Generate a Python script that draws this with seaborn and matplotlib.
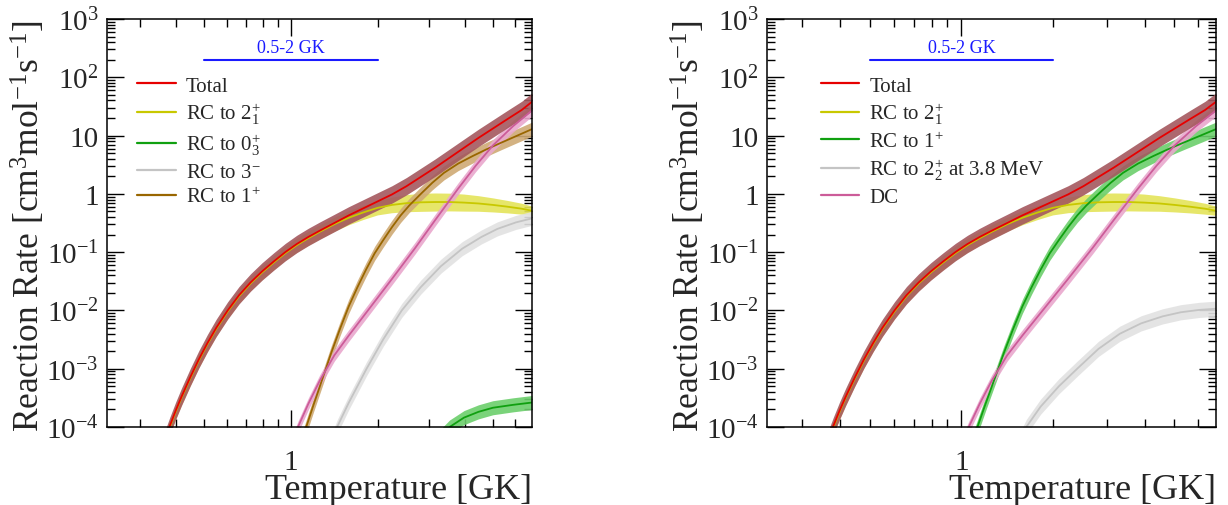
import numpy as np
import pandas as pd
import matplotlib
import matplotlib.pyplot as plt
from matplotlib.lines import Line2D
import seaborn as sns

# ---- data (temperature in GK, rate in cm3 mol-1 s-1) ----
t_total = [0.36, 0.38, 0.398, 0.417, 0.447, 0.479, 0.513, 0.55, 0.603, 0.66, 0.724, 0.794,
           0.871, 0.955, 1.047, 1.148, 1.259, 1.413, 1.585, 1.778, 1.995, 2.239, 2.512, 2.818,
           3.162, 3.548, 3.981, 4.467, 5.012, 5.623, 6.31, 6.85]
r_total = [5.0e-5, 1.05e-4, 1.9e-4, 3.3e-4, 7.1e-4, 1.45e-3, 2.75e-3, 5.0e-3, 0.010, 0.0182,
           0.0302, 0.0468, 0.0692, 0.100, 0.138, 0.182, 0.234, 0.316, 0.427, 0.562, 0.741,
           0.977, 1.35, 1.95, 2.82, 4.17, 6.17, 9.12, 13.2, 19.1, 27.5, 38.0]

t_rc21 = t_total
r_rc21 = [4.8e-5, 1.0e-4, 1.82e-4, 3.17e-4, 6.8e-4, 1.39e-3, 2.64e-3, 4.8e-3, 9.6e-3, 0.0175,
          0.029, 0.0449, 0.0664, 0.096, 0.132, 0.174, 0.224, 0.302, 0.389, 0.479, 0.575,
          0.646, 0.692, 0.716, 0.724, 0.724, 0.708, 0.684, 0.646, 0.603, 0.556, 0.513]
e_rc21 = [1.32, 1.32, 1.32, 1.32, 1.32, 1.32, 1.32, 1.32, 1.32, 1.32, 1.32, 1.32, 1.32,
          1.32, 1.32, 1.32, 1.32, 1.32, 1.32, 1.32, 1.32, 1.36, 1.40, 1.43, 1.43, 1.42,
          1.40, 1.36, 1.32, 1.28, 1.24, 1.20]

t_rc1 = [1.07, 1.12, 1.20, 1.29, 1.38, 1.48, 1.585, 1.70, 1.82, 1.95, 2.09, 2.24, 2.40,
         2.57, 2.82, 3.09, 3.39, 3.80, 4.27, 4.79, 5.37, 6.03, 6.85]
r_rc1 = [4.5e-5, 8.9e-5, 2.5e-4, 7.1e-4, 1.9e-3, 4.9e-3, 0.0117, 0.0251, 0.0501, 0.0955,
         0.162, 0.269, 0.427, 0.631, 1.00, 1.55, 2.29, 3.31, 4.47, 5.89, 7.59, 9.77, 12.9]

t_dc = [1.0, 1.057, 1.148, 1.259, 1.413, 1.585, 1.862, 2.239, 2.692, 3.162, 3.784, 4.365,
        5.012, 5.888, 6.85]
r_dc = [5.0e-5, 1.0e-4, 2.5e-4, 6.3e-4, 1.7e-3, 3.7e-3, 0.0105, 0.0347, 0.117, 0.355, 1.20,
        3.02, 6.76, 14.5, 26.9]

t_rc3m = [1.38, 1.445, 1.585, 1.828, 2.089, 2.421, 2.818, 3.311, 3.926, 4.571, 5.2, 6.026, 6.85]
r_rc3m = [5.6e-5, 1.0e-4, 2.6e-4, 1.0e-3, 3.2e-3, 0.010, 0.0251, 0.0575, 0.115, 0.182, 0.251,
          0.324, 0.38]

t_rc03 = [3.162, 3.548, 3.981, 4.467, 5.012, 5.888, 6.85]
r_rc03 = [5.6e-5, 1.0e-4, 1.45e-4, 1.82e-4, 2.14e-4, 2.4e-4, 2.63e-4]

t_rc22 = [1.549, 1.633, 1.82, 2.089, 2.399, 2.818, 3.311, 3.89, 4.571, 5.248, 6.026, 6.85]
r_rc22 = [5.6e-5, 1.0e-4, 2.24e-4, 5.0e-4, 1.0e-3, 2.19e-3, 3.98e-3, 6.0e-3, 7.9e-3, 9.3e-3,
          0.0102, 0.0107]

# multiplicative uncertainty of the bands
err_total = 1.41
err_rc1 = 1.32
err_dc = 1.26
err_rc3m = 1.32
err_rc03 = 1.32
err_rc22 = 1.35

range_t = [0.5, 2.0]
range_level = [200, 200]
range_text = '0.5-2 GK'

y_ticks = [1e-4, 1e-3, 1e-2, 1e-1, 1, 10, 100, 1000]
y_labels = ['$10^{-4}$', '$10^{-3}$', '$10^{-2}$', '$10^{-1}$', '1', '10', '$10^{2}$', '$10^{3}$']
x_minor = [0.3, 0.4, 0.5, 0.6, 0.7, 0.8, 0.9, 2, 3, 4, 5, 6]

sns.set_style('ticks')
plt.rcParams['font.family'] = ['Liberation Serif', 'DejaVu Serif']
plt.rcParams['mathtext.fontset'] = 'custom'
plt.rcParams['mathtext.rm'] = 'Liberation Serif'
plt.rcParams['mathtext.it'] = 'Liberation Serif:italic'
plt.rcParams['mathtext.bf'] = 'Liberation Serif:bold'

C_TOTAL, B_TOTAL = '#e60000', '#a4585e'
C_YEL, B_YEL = '#c8c800', '#e4e45a'
C_GRN, B_GRN = '#10a010', '#6ccf6c'
C_GRY, B_GRY = '#c4c4c4', '#e2e2e2'
C_BRN, B_BRN = '#996600', '#cfaa74'
C_PNK, B_PNK = '#cc5c99', '#e9a8cd'


def curve(ax, t, r, err, line_c, band_c):
    t = np.asarray(t)
    r = np.asarray(r)
    err = np.asarray(err)
    ax.fill_between(t, r / err, r * err, color=band_c, lw=0, alpha=0.9)
    sns.lineplot(x=t, y=r, ax=ax, color=line_c, lw=1.3, estimator=None, sort=False, legend=False)


def style_axes(ax, width_px):
    ax.set_xscale('log')
    ax.set_yscale('log')
    ax.set_xlim(0.23, 6.85)
    ax.set_ylim(1e-4, 1e3)
    ax.set_xticks([1])
    ax.set_xticklabels(['1'])
    ax.set_xticks(x_minor, minor=True)
    ax.set_xticklabels([], minor=True)
    ax.set_yticks(y_ticks)
    ax.set_yticklabels(y_labels)
    ax.tick_params(which='both', direction='in', top=True, right=True, width=1, color='black')
    ax.tick_params(which='major', length=12, labelsize=21)
    ax.tick_params(which='minor', length=6)
    ax.tick_params(axis='x', which='major', pad=16)
    ax.tick_params(axis='y', which='major', pad=6)
    for s in ax.spines.values():
        s.set_color('black')
        s.set_linewidth(1.1)
    ax.set_xlabel('Temperature [GK]', fontsize=26, loc='right')
    ax.xaxis.set_label_coords(1.0, -0.112)
    ax.set_ylabel('Reaction Rate [cm$^{3}$mol$^{-1}$s$^{-1}$]', fontsize=25.5, loc='top')
    ax.yaxis.set_label_coords(-59 / width_px, 1.0)


def range_marker(ax):
    ax.plot(range_t, range_level, color='#1a1aff', lw=1.5)
    ax.text(np.sqrt(range_t[0] * range_t[1]), 235, range_text, color='#1a1aff', fontsize=13,
            ha='center', va='bottom')


fig = plt.figure(figsize=(12.28, 5.06), dpi=100)
ax1 = fig.add_axes([107 / 1228, 78 / 506, 425 / 1228, 408 / 506])
ax2 = fig.add_axes([767 / 1228, 78 / 506, 449 / 1228, 408 / 506])

# left panel
curve(ax1, t_rc21, r_rc21, e_rc21, C_YEL, B_YEL)
curve(ax1, t_rc03, r_rc03, err_rc03, C_GRN, B_GRN)
curve(ax1, t_rc3m, r_rc3m, err_rc3m, C_GRY, B_GRY)
curve(ax1, t_rc1, r_rc1, err_rc1, C_BRN, B_BRN)
curve(ax1, t_dc, r_dc, err_dc, C_PNK, B_PNK)
curve(ax1, t_total, r_total, err_total, C_TOTAL, B_TOTAL)
style_axes(ax1, 425)
range_marker(ax1)
h1 = [Line2D([], [], color=c, lw=1.6) for c in [C_TOTAL, C_YEL, C_GRN, C_GRY, C_BRN]]
l1 = ['Total', 'RC to $2^{+}_{1}$', 'RC to $0^{+}_{3}$', 'RC to $3^{-}$', 'RC to $1^{+}$']
ax1.legend(h1, l1, loc='upper left', bbox_to_anchor=(0.07, 0.86), frameon=False, fontsize=15,
           handlelength=1.9, handletextpad=0.45, labelspacing=0.25, borderpad=0, borderaxespad=0)

# right panel
curve(ax2, t_rc21, r_rc21, e_rc21, C_YEL, B_YEL)
curve(ax2, t_rc22, r_rc22, err_rc22, C_GRY, B_GRY)
curve(ax2, t_rc1, r_rc1, err_rc1, C_GRN, B_GRN)
curve(ax2, t_dc, r_dc, err_dc, C_PNK, B_PNK)
curve(ax2, t_total, r_total, err_total, C_TOTAL, B_TOTAL)
style_axes(ax2, 449)
range_marker(ax2)
h2 = [Line2D([], [], color=c, lw=1.6) for c in [C_TOTAL, C_YEL, C_GRN, C_GRY, C_PNK]]
l2 = ['Total', 'RC to $2^{+}_{1}$', 'RC to $1^{+}$', 'RC to $2^{+}_{2}$ at 3.8 MeV', 'DC']
ax2.legend(h2, l2, loc='upper left', bbox_to_anchor=(0.12, 0.86), frameon=False, fontsize=15,
           handlelength=1.83, handletextpad=0.5, labelspacing=0.25, borderpad=0, borderaxespad=0)

fig.savefig('out.png', dpi=100)
